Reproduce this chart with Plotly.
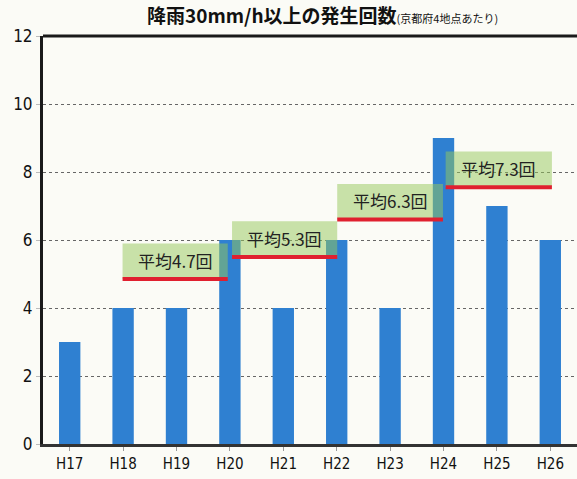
import plotly.graph_objects as go

years = ["H17", "H18", "H19", "H20", "H21", "H22", "H23", "H24", "H25", "H26"]
counts = [3, 4, 4, 6, 4, 6, 4, 9, 7, 6]

avg_labels = ["平均4.7回", "平均5.3回", "平均6.3回", "平均7.3回"]
avg_levels = [4.85, 5.5, 6.6, 7.55]
avg_x0 = [0.99, 3.04, 5.01, 7.04]
avg_x1 = [2.96, 5.01, 6.99, 9.03]

title_main = "降雨30mm/h以上の発生回数"
title_sub = "(京都府4地点あたり)"

bg = "#fbfbf6"
num_font = "Liberation Sans Narrow, Arial Narrow, DejaVu Sans Condensed, sans-serif"
jp_font = "Noto Sans CJK JP, sans-serif"

fig = go.Figure()
fig.add_trace(go.Bar(
    x=list(range(len(years))), y=counts,
    marker=dict(color="#2f80d1", line=dict(width=0)),
    width=0.4,
))

shapes = []
annotations = []
for lab, lv, x0, x1 in zip(avg_labels, avg_levels, avg_x0, avg_x1):
    shapes.append(dict(type="rect", xref="x", yref="y", x0=x0, x1=x1, y0=lv, y1=lv + 1.05,
                       fillcolor="rgba(150,200,90,0.5)", line=dict(width=0), layer="above"))
    shapes.append(dict(type="line", xref="x", yref="y", x0=x0, x1=x1, y0=lv, y1=lv,
                       line=dict(color="#e0202f", width=4), layer="above"))
    annotations.append(dict(xref="x", yref="y", x=(x0 + x1) / 2, y=lv + 0.55, text=lab,
                            showarrow=False, font=dict(family=jp_font, size=17, color="#222")))

# top frame line
shapes.append(dict(type="line", xref="paper", yref="paper", x0=0, x1=1, y0=1, y1=1,
                   line=dict(color="#1a1a1a", width=3), layer="above"))

annotations.append(dict(
    xref="paper", yref="paper", x=0.524, y=1.0, yshift=6, xanchor="center", yanchor="bottom",
    text="<b>" + title_main + "</b><span style='font-size:11px'>" + title_sub + "</span>",
    showarrow=False, font=dict(family=jp_font, size=19, color="#111")))

fig.update_layout(
    width=577, height=479,
    margin=dict(l=43, r=0, t=36, b=35),
    paper_bgcolor=bg, plot_bgcolor=bg,
    showlegend=False,
    shapes=shapes, annotations=annotations,
    xaxis=dict(
        range=[-0.5, 9.5],
        tickmode="array", tickvals=list(range(len(years))), ticktext=years,
        tickson="boundaries", ticks="outside", ticklen=4, tickcolor="#999",
        showline=True, linecolor="#333", linewidth=2.5,
        showgrid=False, zeroline=False,
        tickfont=dict(family=num_font, size=15, color="#111"),
    ),
    yaxis=dict(
        range=[0, 12], dtick=2,
        ticks="outside", ticklen=4, tickcolor="#bbb",
        showline=True, linecolor="#1a1a1a", linewidth=3,
        showgrid=True, gridcolor="#666", griddash="dot", gridwidth=1,
        zeroline=False,
        tickfont=dict(family=num_font, size=17, color="#111"),
    ),
)

fig.write_html("out.html")
